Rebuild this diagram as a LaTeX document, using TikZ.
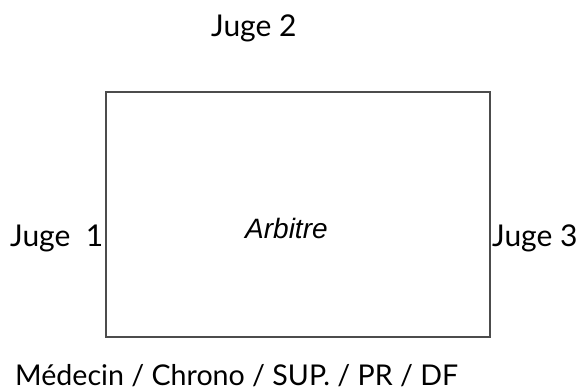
\documentclass[tikz,border=0pt]{standalone}
\usepackage{fontspec}
\setmainfont{Lato}
\newfontfamily\arialfont{Liberation Sans}
\begin{document}
\begin{tikzpicture}[x=1pt,y=-1pt,
  lbl/.style={inner sep=0pt,anchor=base west,font=\fontsize{30}{34}\selectfont},
  frame/.style={draw=black!70,line width=2pt}]
\useasboundingbox (0,0) rectangle (580,390);
\draw[frame] (106,92) rectangle (490,337);
\coordinate (box) at (298,214);
\node[lbl] (j2) at (211,37) {Juge 2};
\node[lbl] (j1) at (10,246) {Juge\ \ 1};
\node[lbl] (j3) at (492,246) {Juge 3};
\node[lbl,font=\arialfont\itshape\fontsize{28}{32}\selectfont] (arb) at (245,238) {Arbitre};
\node[lbl,font=\fontsize{28.6}{34}\selectfont] (med) at (15,385) {Médecin / Chrono / SUP. / PR / DF};
\end{tikzpicture}
\end{document}
